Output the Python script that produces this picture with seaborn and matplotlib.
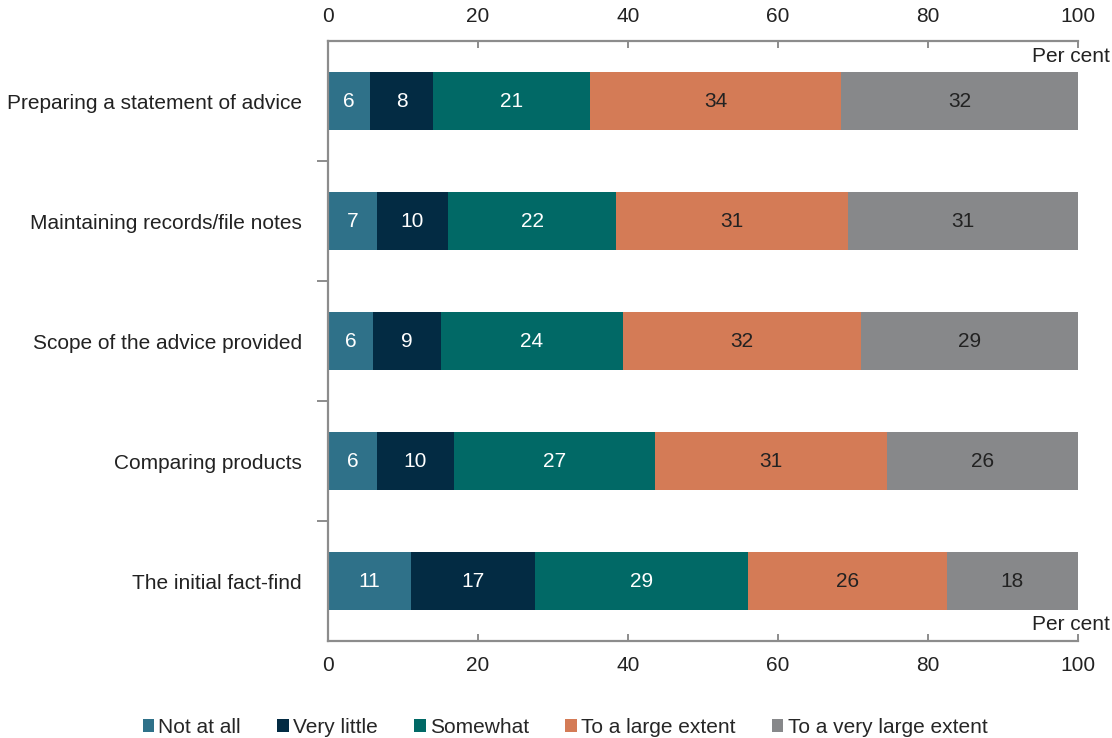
#!/usr/bin/env python3
"""Stacked horizontal bars: extent of difficulty by advice task (per cent)."""

import matplotlib.pyplot as plt
import numpy as np
import pandas as pd
import seaborn as sns
from matplotlib.patches import Patch

TASKS = [
    "Preparing a statement of advice",
    "Maintaining records/file notes",
    "Scope of the advice provided",
    "Comparing products",
    "The initial fact-find",
]
RESPONSES = [
    "Not at all",
    "Very little",
    "Somewhat",
    "To a large extent",
    "To a very large extent",
]
# per cent shares, one list per response, in TASKS order
NOT_AT_ALL = [5.6, 6.5, 6.0, 6.5, 11.1]
VERY_LITTLE = [8.4, 9.5, 9.1, 10.3, 16.5]
SOMEWHAT = [20.9, 22.4, 24.2, 26.8, 28.4]
LARGE = [33.5, 30.9, 31.8, 30.9, 26.5]
VERY_LARGE = [31.6, 30.7, 28.9, 25.5, 17.5]
# printed labels (rounded in the source)
LABELS = [
    [6, 7, 6, 6, 11],
    [8, 10, 9, 10, 17],
    [21, 22, 24, 27, 29],
    [34, 31, 32, 31, 26],
    [32, 31, 29, 26, 18],
]

COLORS = ["#2f7189", "#032b43", "#016966", "#d47b56", "#87888a"]
TEXT_COLORS = ["white", "white", "white", "#222222", "#222222"]
GREY = "#8c8c8c"
FS = 15

shares = pd.DataFrame(
    np.array([NOT_AT_ALL, VERY_LITTLE, SOMEWHAT, LARGE, VERY_LARGE]).T,
    index=TASKS,
    columns=RESPONSES,
)
cumulative = shares.cumsum(axis=1)

sns.set_theme(style="white")
plt.rcParams["font.family"] = ["Liberation Sans", "DejaVu Sans"]
plt.rcParams["font.size"] = FS

fig = plt.figure(figsize=(11.12, 7.38), dpi=100)
ax = fig.add_axes([0.295, 0.1314, 0.6744, 0.813])

# draw cumulative totals from the longest back to the shortest
for i in reversed(range(len(RESPONSES))):
    layer = pd.DataFrame({"task": TASKS, "value": cumulative.iloc[:, i].values})
    sns.barplot(
        data=layer, x="value", y="task", order=TASKS, orient="h",
        color=COLORS[i], saturation=1, width=0.49, ax=ax, linewidth=0,
    )

for i in range(len(RESPONSES)):
    left = cumulative.iloc[:, i] - shares.iloc[:, i]
    centres = left + shares.iloc[:, i] / 2
    for row, (x, lab) in enumerate(zip(centres, LABELS[i])):
        ax.text(x, row, str(lab), ha="center", va="center",
                color=TEXT_COLORS[i], fontsize=FS)

ax.set_xlim(0, 100)
ax.set_ylim(4.5, -0.5)
ax.set_xticks(range(0, 101, 20))
ax.set_xlabel("")
ax.set_ylabel("")

for side in ["top", "bottom", "left"]:
    ax.spines[side].set_visible(True)
    ax.spines[side].set_color(GREY)
    ax.spines[side].set_linewidth(1.6)
ax.spines["right"].set_visible(False)

ax.tick_params(axis="x", which="major", top=True, bottom=True,
               labeltop=True, labelbottom=True, direction="in",
               length=5, width=1.4, color=GREY, labelsize=FS, pad=11,
               labelcolor="#222222")
ax.tick_params(axis="y", which="major", length=0, pad=19,
               labelsize=FS, labelcolor="#222222")
ax.set_yticks(np.arange(0.5, 4.0, 1.0), minor=True)
ax.tick_params(axis="y", which="minor", left=True, direction="out",
               length=8, width=1.4, color=GREY)

fig.text(1110 / 1112, 1 - 57 / 738, "Per cent", ha="right", va="center",
         fontsize=FS, color="#222222")
fig.text(1110 / 1112, 1 - 625 / 738, "Per cent", ha="right", va="center",
         fontsize=FS, color="#222222")

handles = [Patch(facecolor=c, edgecolor="none") for c in COLORS]
fig.legend(handles, RESPONSES, loc="lower center", ncol=5, frameon=False,
           bbox_to_anchor=(0.508, -0.024), fontsize=FS,
           handlelength=0.55, handleheight=0.55, handletextpad=0.2,
           columnspacing=1.75)

fig.savefig("out.png", dpi=100)
plt.close(fig)
